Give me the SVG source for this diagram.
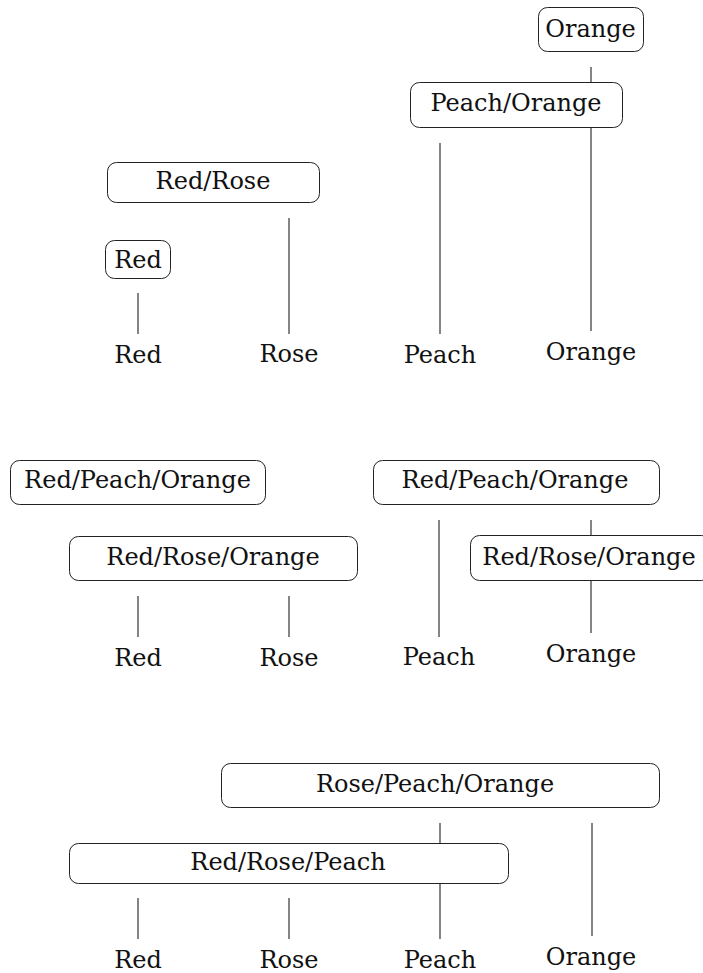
<svg xmlns="http://www.w3.org/2000/svg" width="703" height="973" viewBox="0 0 703 973">
<style>
text { font-family: "DejaVu Serif", serif; font-size: 24px; fill: #111; text-anchor: middle; }
.box { fill: #fff; stroke: #222; stroke-width: 1; }
.conn line { stroke: #333; stroke-width: 1.2; }
</style>
<rect width="703" height="973" fill="#fff"/>
<g id="connectors" class="conn">
  <line x1="591" y1="67" x2="591" y2="331"/>
  <line x1="440" y1="143" x2="440" y2="334"/>
  <line x1="289" y1="218" x2="289" y2="334"/>
  <line x1="138" y1="293" x2="138" y2="334"/>
  <line x1="138" y1="596" x2="138" y2="637"/>
  <line x1="289" y1="596" x2="289" y2="637"/>
  <line x1="439" y1="520" x2="439" y2="637"/>
  <line x1="591" y1="520" x2="591" y2="633"/>
  <line x1="440" y1="823" x2="440" y2="939"/>
  <line x1="592" y1="823" x2="592" y2="936"/>
  <line x1="138" y1="898" x2="138" y2="939"/>
  <line x1="289" y1="898" x2="289" y2="939"/>
</g>
<g id="p1-orange"><rect class="box" x="538.5" y="7.5" width="105" height="44" rx="9"/><text x="590.5" y="37">Orange</text></g>
<g id="p1-peach-orange"><rect class="box" x="410.5" y="82.5" width="212" height="45" rx="9"/><text x="516" y="111">Peach/Orange</text></g>
<g id="p1-red-rose"><rect class="box" x="107.5" y="162.5" width="212" height="40" rx="9"/><text x="213" y="189">Red/Rose</text></g>
<g id="p1-red"><rect class="box" x="105.5" y="240.5" width="65" height="38" rx="9"/><text x="138" y="268">Red</text></g>
<g id="p1-leaf-red"><text x="138" y="363">Red</text></g>
<g id="p1-leaf-rose"><text x="289" y="362">Rose</text></g>
<g id="p1-leaf-peach"><text x="440" y="363">Peach</text></g>
<g id="p1-leaf-orange"><text x="591" y="360">Orange</text></g>

<g id="p2-red-peach-orange-l"><rect class="box" x="10.5" y="460.5" width="255" height="44" rx="9"/><text x="137.5" y="488">Red/Peach/Orange</text></g>
<g id="p2-red-rose-orange-l"><rect class="box" x="69.5" y="536.5" width="288" height="44" rx="9"/><text x="213" y="565">Red/Rose/Orange</text></g>
<g id="p2-leaf-red"><text x="138" y="666">Red</text></g>
<g id="p2-leaf-rose"><text x="289" y="666">Rose</text></g>
<g id="p2-red-peach-orange-r"><rect class="box" x="373.5" y="460.5" width="286" height="44" rx="9"/><text x="515" y="488">Red/Peach/Orange</text></g>
<g id="p2-red-rose-orange-r"><rect class="box" x="470.5" y="535.5" width="240" height="45" rx="9"/><text x="589" y="565">Red/Rose/Orange</text></g>
<g id="p2-leaf-peach"><text x="439" y="665">Peach</text></g>
<g id="p2-leaf-orange"><text x="591" y="662">Orange</text></g>

<g id="p3-rose-peach-orange"><rect class="box" x="221.5" y="763.5" width="438" height="44" rx="9"/><text x="435" y="792">Rose/Peach/Orange</text></g>
<g id="p3-red-rose-peach"><rect class="box" x="69.5" y="843.5" width="439" height="40" rx="9"/><text x="288" y="870">Red/Rose/Peach</text></g>
<g id="p3-leaf-red"><text x="138" y="968">Red</text></g>
<g id="p3-leaf-rose"><text x="289" y="968">Rose</text></g>
<g id="p3-leaf-peach"><text x="440" y="968">Peach</text></g>
<g id="p3-leaf-orange"><text x="591" y="965">Orange</text></g>
</svg>
